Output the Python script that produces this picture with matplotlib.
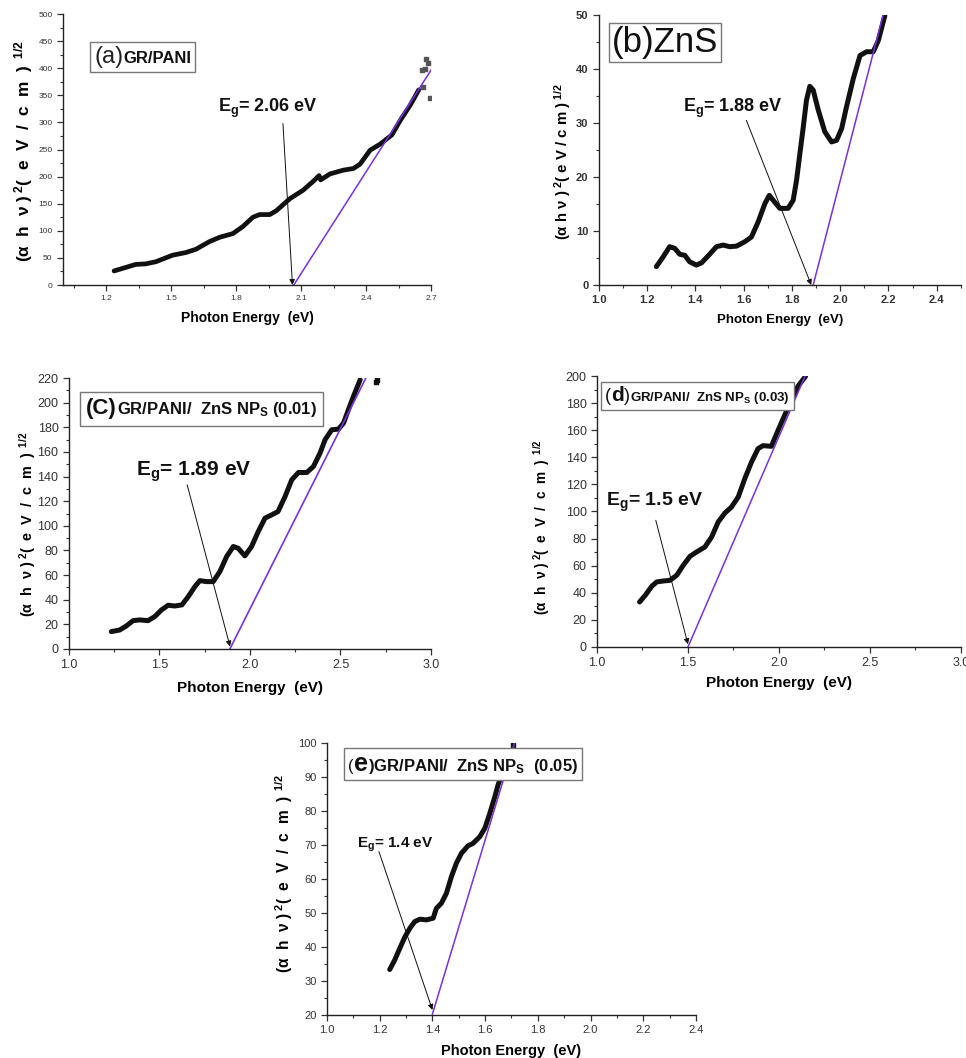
import matplotlib
matplotlib.use("Agg")
import matplotlib.pyplot as plt
from matplotlib.ticker import MultipleLocator, FormatStrFormatter
from matplotlib.offsetbox import TextArea, HPacker, AnchoredOffsetbox

plt.rcParams['font.family'] = ['Liberation Sans', 'DejaVu Sans']
plt.rcParams['mathtext.fontset'] = 'custom'
plt.rcParams['mathtext.rm'] = 'Liberation Sans'
plt.rcParams['mathtext.it'] = 'Liberation Sans:italic'
plt.rcParams['mathtext.bf'] = 'Liberation Sans:bold'

PURPLE = '#7a2fe0'

# ---------------- data ----------------
# (a) GR/PANI
a_x = [1.236, 1.336, 1.382, 1.429, 1.506, 1.568, 1.614, 1.676, 1.723, 1.785, 1.831,
       1.877, 1.908, 1.955, 1.985, 2.047, 2.109, 2.155, 2.183, 2.190, 2.233, 2.295,
       2.341, 2.372, 2.419, 2.465, 2.519, 2.558, 2.604, 2.643]
a_y = [26, 38, 39, 43, 55, 60, 66, 80, 88, 95, 108, 125, 130, 130, 137, 159, 175,
       191, 202, 194, 205, 212, 215, 223, 249, 260, 277, 304, 332, 360]
a_scatter_x = [2.658, 2.665, 2.672, 2.678, 2.685, 2.694]
a_scatter_y = [397, 366, 398, 418, 410, 346]
a_fit_x = [2.066, 2.715]
a_fit_y = [0, 406]
a_eg = 2.06

# (b) ZnS
b_x = [1.238, 1.266, 1.293, 1.314, 1.335, 1.356, 1.376, 1.404, 1.425, 1.459, 1.487,
       1.515, 1.542, 1.570, 1.604, 1.632, 1.660, 1.688, 1.706, 1.722, 1.750, 1.784,
       1.805, 1.819, 1.833, 1.847, 1.860, 1.874, 1.888, 1.909, 1.936, 1.964, 1.985,
       2.006, 2.026, 2.054, 2.082, 2.109, 2.137, 2.158, 2.185]
b_y = [3.4, 5.2, 7.1, 6.8, 5.7, 5.5, 4.3, 3.7, 4.1, 5.7, 7.1, 7.4, 7.1, 7.2, 8.0,
       8.9, 11.7, 15.1, 16.6, 15.7, 14.2, 14.2, 15.7, 19.4, 24.4, 29.3, 34.2, 36.8,
       36.1, 32.4, 28.4, 26.5, 26.8, 29.0, 33.0, 38.2, 42.5, 43.2, 43.2, 45.3, 49.9]
b_fit_x = [1.888, 2.181]
b_fit_y = [0, 50.6]
b_eg = 1.88

# (c) GR/PANI/ZnS NPs (0.01)
c_x = [1.234, 1.280, 1.317, 1.354, 1.391, 1.437, 1.474, 1.511, 1.548, 1.585, 1.624,
       1.659, 1.696, 1.723, 1.760, 1.797, 1.834, 1.871, 1.908, 1.935, 1.972, 2.009,
       2.046, 2.083, 2.120, 2.155, 2.194, 2.231, 2.268, 2.314, 2.351, 2.387, 2.415,
       2.452, 2.489, 2.517, 2.544, 2.572, 2.609]
c_y = [14.1, 15.4, 18.7, 23.0, 23.6, 23.0, 26.3, 31.7, 35.5, 34.9, 35.8, 42.5, 50.7,
       55.5, 54.7, 54.7, 62.9, 75.0, 83.2, 81.8, 75.6, 83.2, 95.4, 106.2, 108.9,
       111.6, 123.8, 137.4, 143.3, 143.3, 148.2, 159.0, 169.9, 178.0, 178.5, 183.4,
       194.3, 205.1, 218.6]
c_scatter_x = [2.695, 2.702]
c_scatter_y = [216.5, 218.0]
c_fit_x = [1.889, 2.661]
c_fit_y = [0, 226]
c_eg = 1.89

# (d) GR/PANI/ZnS NPs (0.03)
d_x = [1.234, 1.265, 1.301, 1.328, 1.365, 1.401, 1.438, 1.474, 1.511, 1.547, 1.593,
       1.630, 1.666, 1.703, 1.739, 1.776, 1.812, 1.849, 1.885, 1.912, 1.958, 1.995,
       2.031, 2.068, 2.104, 2.146]
d_y = [33.2, 38.1, 44.8, 48.0, 48.7, 49.2, 52.9, 60.3, 66.9, 70.1, 73.8, 81.2, 92.3,
       98.9, 103.3, 110.7, 124.2, 136.5, 146.4, 148.6, 148.1, 159.9, 171.0, 182.0,
       192.4, 199.8]
d_fit_x = [1.5, 2.150]
d_fit_y = [0, 202]
d_eg = 1.5

# (e) GR/PANI/ZnS NPs (0.05)
e_x = [1.238, 1.257, 1.276, 1.295, 1.314, 1.333, 1.352, 1.377, 1.403, 1.415, 1.434,
       1.453, 1.472, 1.491, 1.510, 1.535, 1.554, 1.580, 1.599, 1.618, 1.637, 1.649,
       1.656]
e_y = [33.4, 36.2, 39.6, 42.9, 45.5, 47.5, 48.2, 48.0, 48.5, 51.4, 52.9, 55.8, 60.7,
       64.7, 67.6, 69.8, 70.5, 72.5, 75.0, 79.4, 84.3, 87.7, 89.2]
e_scatter_x = [1.704]
e_scatter_y = [99.5]
e_fit_x = [1.400, 1.716]
e_fit_y = [20.3, 101.2]
e_eg = 1.4

YLABEL = r'$\mathbf{(\alpha\ \ h\ \ \nu\ )^{\ 2}(\ \ e\ \ V\ \ /\ \ c\ \ m\ \ )^{\ \ 1/2}}$'
YLABEL_NARROW = r'$\mathbf{(\alpha\ h\ \nu\ )^{\ 2}(\ e\ V\ /\ c\ m\ )^{\ 1/2}}$'


def style_axes(ax, xlim, ylim, xmaj, xmin, ymaj, ymin, xfmt, tick_fs, tick_w='normal'):
    ax.set_xlim(*xlim)
    ax.set_ylim(*ylim)
    for s in ['top', 'right']:
        ax.spines[s].set_visible(False)
    for s in ['left', 'bottom']:
        ax.spines[s].set_linewidth(1.0)
        ax.spines[s].set_color('#222222')
    ax.xaxis.set_major_locator(MultipleLocator(xmaj))
    ax.xaxis.set_minor_locator(MultipleLocator(xmin))
    ax.yaxis.set_major_locator(MultipleLocator(ymaj))
    ax.yaxis.set_minor_locator(MultipleLocator(ymin))
    ax.xaxis.set_major_formatter(FormatStrFormatter(xfmt))
    ax.tick_params(which='major', direction='out', length=4, width=0.9,
                   labelsize=tick_fs, colors='#333333')
    ax.tick_params(which='minor', direction='out', length=2.5, width=0.8, colors='#333333')
    for lab in ax.get_xticklabels() + ax.get_yticklabels():
        lab.set_fontweight(tick_w)


def panel_box(ax, parts, anchor, pad=0.35):
    boxes = [TextArea(t, textprops=p) for t, p in parts]
    pack = HPacker(children=boxes, align='baseline', pad=0, sep=0)
    ab = AnchoredOffsetbox(loc='upper left', child=pack, pad=pad, borderpad=0,
                           frameon=True, bbox_to_anchor=anchor,
                           bbox_transform=ax.transAxes)
    ab.patch.set_edgecolor('#777777')
    ab.patch.set_linewidth(1.0)
    ax.add_artist(ab)


def eg_annot(ax, eg, ybase, start, text, text_pos, fs):
    ax.annotate('', xy=(eg, ybase), xytext=start,
                arrowprops=dict(arrowstyle='-|>', lw=0.7, color='#111111',
                                mutation_scale=8, shrinkA=0, shrinkB=0))
    ax.text(text_pos[0], text_pos[1], text, fontsize=fs, fontweight='bold',
            ha='left', va='center', color='#111111')


fig = plt.figure(figsize=(9.66, 10.58), dpi=100)
ylabel_targets = []

# ---- (a)
ax = fig.add_axes([0.0652, 0.7306, 0.381, 0.2561])
style_axes(ax, (1.0, 2.7), (0, 500), 0.3, 0.15, 50, 25, '%.1f', 6)
ax.set_xticks([1.2, 1.5, 1.8, 2.1, 2.4, 2.7])
ax.plot(a_x, a_y, color='#111111', lw=3.4, solid_capstyle='round', solid_joinstyle='round')
ax.scatter(a_scatter_x, a_scatter_y, s=5, color='#555555', marker='s')
ax.plot(a_fit_x, a_fit_y, color=PURPLE, lw=1.1)
eg_annot(ax, a_eg, 0, (2.016, 298), r'E$_\mathbf{g}$= 2.06 eV', (1.715, 326), 13)
panel_box(ax, [('(a)', dict(size=17, color='#222222')),
               ('GR/PANI', dict(size=12, weight='bold', color='#111111'))],
          (0.073, 0.897), pad=0.3)
ax.set_ylabel(YLABEL, fontsize=10)
ax.yaxis.set_label_coords(-0.076, 0.494)
ax.set_xlabel('Photon Energy  (eV)', fontsize=10, fontweight='bold', labelpad=6)
ylabel_targets.append((ax, 223))

# ---- (b)
ax = fig.add_axes([0.620, 0.7306, 0.3747, 0.2552])
style_axes(ax, (1.0, 2.5), (0, 50), 0.2, 0.1, 10, 5, '%.1f', 8, 'bold')
ax.set_xticks([1.0, 1.2, 1.4, 1.6, 1.8, 2.0, 2.2, 2.4])
ax.plot(b_x, b_y, color='#111111', lw=3.6, solid_capstyle='round', solid_joinstyle='round')
ax.plot(b_fit_x, b_fit_y, color=PURPLE, lw=1.1)
eg_annot(ax, b_eg, 0, (1.611, 30.5), r'E$_\mathbf{g}$= 1.88 eV', (1.349, 32.7), 13)
panel_box(ax, [('(b)ZnS', dict(size=25, color='#111111'))], (0.028, 0.970), pad=0.2)
ax.set_ylabel(YLABEL_NARROW, fontsize=9)
ax.yaxis.set_label_coords(-0.072, 0.456)
ax.set_xlabel('Photon Energy  (eV)', fontsize=9.5, fontweight='bold', labelpad=6)
ylabel_targets.append((ax, 157))

# ---- (c)
ax = fig.add_axes([0.0714, 0.3866, 0.3747, 0.2561])
style_axes(ax, (1.0, 3.0), (0, 220), 0.5, 0.25, 20, 10, '%.1f', 9)
ax.plot(c_x, c_y, color='#111111', lw=3.6, solid_capstyle='round', solid_joinstyle='round')
ax.scatter(c_scatter_x, c_scatter_y, s=12, color='#111111', marker='s')
ax.plot(c_fit_x, c_fit_y, color=PURPLE, lw=1.2)
eg_annot(ax, c_eg, 2, (1.653, 133.3), r'E$_\mathbf{g}$= 1.89 eV', (1.369, 144), 15)
panel_box(ax, [('(C)', dict(size=16, weight='bold', color='#111111')),
               (r'GR/PANI/  ZnS NP$_\mathbf{S}$ (0.01)', dict(size=12, weight='bold', color='#111111'))],
          (0.030, 0.948), pad=0.45)
ax.set_ylabel(YLABEL, fontsize=11)
ax.yaxis.set_label_coords(-0.086, 0.461)
ax.set_xlabel('Photon Energy  (eV)', fontsize=11, fontweight='bold', labelpad=7)
ylabel_targets.append((ax, 185))

# ---- (d)
ax = fig.add_axes([0.618, 0.3885, 0.3768, 0.2561])
style_axes(ax, (1.0, 3.0), (0, 200), 0.5, 0.25, 20, 10, '%.1f', 9)
ax.plot(d_x, d_y, color='#111111', lw=3.6, solid_capstyle='round', solid_joinstyle='round')
ax.plot(d_fit_x, d_fit_y, color=PURPLE, lw=1.1)
eg_annot(ax, d_eg, 2, (1.323, 93.5), r'E$_\mathbf{g}$= 1.5 eV', (1.051, 106.5), 14)
panel_box(ax, [('(', dict(size=13, color='#111111')),
               ('d', dict(size=15, weight='bold', color='#111111')),
               (')', dict(size=13, color='#111111')),
               (r'GR/PANI/  ZnS NP$_\mathbf{S}$ (0.03)', dict(size=9.5, weight='bold', color='#111111'))],
          (0.011, 0.978), pad=0.3)
ax.set_ylabel(YLABEL, fontsize=10)
ax.yaxis.set_label_coords(-0.124, 0.443)
ax.set_xlabel('Photon Energy  (eV)', fontsize=11, fontweight='bold', labelpad=5)
ylabel_targets.append((ax, 175))

# ---- (e)
ax = fig.add_axes([0.3385, 0.0406, 0.382, 0.257])
style_axes(ax, (1.0, 2.4), (20, 100), 0.2, 0.1, 10, 5, '%.1f', 8)
ax.plot(e_x, e_y, color='#111111', lw=3.6, solid_capstyle='round', solid_joinstyle='round')
ax.scatter(e_scatter_x, e_scatter_y, s=12, color='#111111', marker='s')
ax.plot(e_fit_x, e_fit_y, color=PURPLE, lw=1.1)
eg_annot(ax, e_eg, 21.5, (1.197, 68.1), r'E$_\mathbf{g}$= 1.4 eV', (1.114, 70.0), 11)
panel_box(ax, [('(', dict(size=12, color='#111111')),
               ('e', dict(size=18, weight='bold', color='#111111')),
               (r')GR/PANI/  ZnS NP$_\mathbf{S}$  (0.05)', dict(size=12, weight='bold', color='#111111'))],
          (0.046, 0.982), pad=0.3)
ax.set_ylabel(YLABEL, fontsize=10)
ax.yaxis.set_label_coords(-0.087, 0.522)
ax.set_xlabel('Photon Energy  (eV)', fontsize=10.5, fontweight='bold', labelpad=6)
ylabel_targets.append((ax, 200))

# scale y-labels so their length matches the reference
fig.canvas.draw()
renderer = fig.canvas.get_renderer()
for axx, target in ylabel_targets:
    lab = axx.yaxis.label
    bb = lab.get_window_extent(renderer)
    lab.set_fontsize(lab.get_fontsize() * target / bb.height)

fig.savefig('out.png', dpi=100)
